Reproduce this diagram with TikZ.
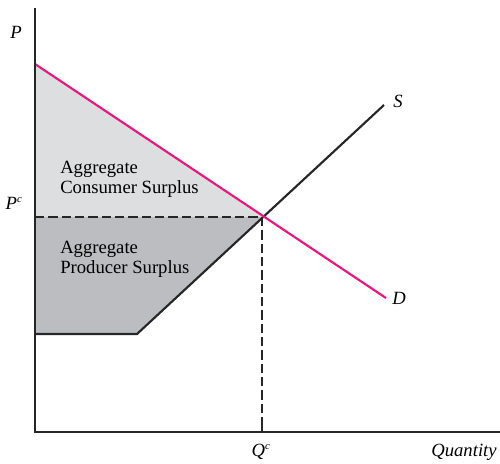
\documentclass[tikz,border=0pt]{standalone}
\usepackage{fontspec}
\setmainfont{Liberation Serif}
\definecolor{mag}{HTML}{E6197F}
\definecolor{lgrey}{HTML}{DDDEE0}
\definecolor{dgrey}{HTML}{BCBDC0}
\begin{document}
\begin{tikzpicture}[x=0.75pt,y=-0.75pt,
  lbl/.style={font=\fontsize{14}{16}\selectfont\itshape, inner sep=0pt, anchor=base},
  area/.style={font=\fontsize{14}{16}\selectfont, anchor=base west, inner sep=0pt},
  ax/.style={line width=1.6pt, black!85},
  curve/.style={line width=1.6pt}]
\useasboundingbox (0,0) rectangle (500,464);
% coordinates
\coordinate (O) at (35,432);
\coordinate (Ytop) at (35,8);
\coordinate (Xend) at (500,432);
\coordinate (Dtop) at (35,64);
\coordinate (Dend) at (386,298);
\coordinate (E) at (262,217);
\coordinate (Pc) at (35,217);
\coordinate (Qc) at (262,432);
\coordinate (S0) at (35,334);
\coordinate (Sk) at (137,334);
\coordinate (Send) at (384,105);
% areas
\fill[lgrey] (Dtop) -- (E) -- (Pc) -- cycle;
\fill[dgrey] (Pc) -- (E) -- (Sk) -- (S0) -- cycle;
% dashed lines
\draw[line width=1.3pt, dash pattern=on 7pt off 3pt, black!85] (Pc) -- (E);
\draw[line width=1.3pt, dash pattern=on 7pt off 3pt, black!85] (E) -- (Qc);
% supply
\draw[curve, black!85] (S0) -- (Sk) -- (Send);
% demand
\draw[curve, mag] (Dtop) -- (Dend);
% axes
\draw[ax] (Ytop) -- (O) -- (Xend);
\draw[line width=1.3pt, black!85] (Qc) -- (262,424);
% labels
\node[lbl] (lP) at (16,38) {P};
\node[lbl] (lPc) at (14,209) {P\textsuperscript{\fontsize{8}{9}\selectfont c}};
\node[lbl] (lS) at (398,107) {S};
\node[lbl] (lD) at (399,304) {D};
\node[lbl] (lQc) at (261,456) {Q\textsuperscript{\fontsize{8}{9}\selectfont c}};
\node[lbl] (lQ) at (464,456) {Quantity};
\node[area] (cs1) at (60,173) {Aggregate};
\node[area] (cs2) at (60,193) {Consumer Surplus};
\node[area] (ps1) at (60,253) {Aggregate};
\node[area] (ps2) at (60,273) {Producer Surplus};
\end{tikzpicture}
\end{document}
